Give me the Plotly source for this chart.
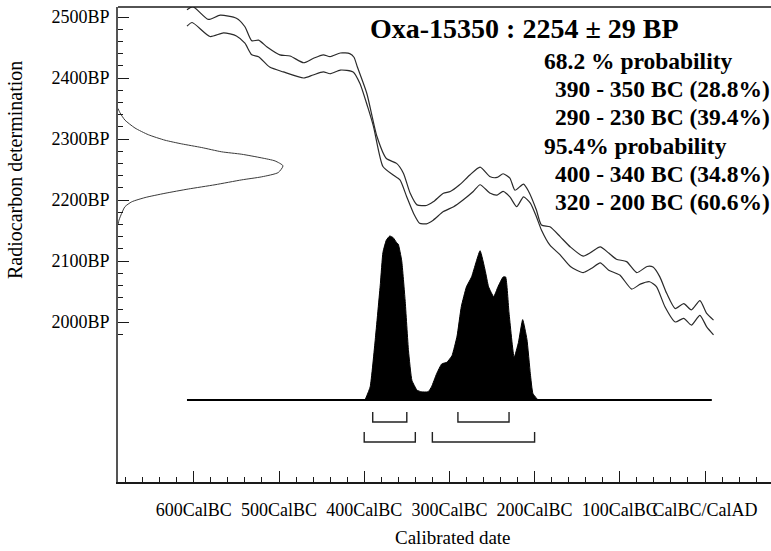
import plotly.graph_objects as go

# ---------------- data ----------------
# calibration curve, upper (+1 sigma) line: calendar year (AD, BC negative) -> BP
upper_year = [-608, -601, -583, -569, -550, -540, -532, -524, -514, -499, -487, -471, -460,
              -448, -440, -428, -417, -412, -408, -397, -385, -374, -362, -354, -346, -338,
              -327, -319, -307, -299, -288, -276, -264, -252, -244, -237, -229, -223, -213,
              -207, -198, -192, -182, -170, -158, -143, -133, -123, -113, -104, -92, -80,
              -68, -61, -53, -45, -35, -25, -16, -6, 2, 10]
upper_bp = [2512, 2517, 2496, 2503, 2498, 2484, 2461, 2462, 2451, 2438, 2436, 2425, 2432,
            2438, 2435, 2441, 2440, 2434, 2418, 2375, 2304, 2268, 2260, 2244, 2211, 2192,
            2191, 2197, 2211, 2214, 2225, 2241, 2254, 2238, 2237, 2243, 2236, 2216, 2226,
            2214, 2184, 2159, 2156, 2140, 2123, 2108, 2115, 2123, 2113, 2103, 2099, 2081,
            2091, 2090, 2074, 2047, 2022, 2030, 2020, 2035, 2014, 2003]

# calibration curve, lower (-1 sigma) line
lower_year = [-608, -602, -581, -565, -550, -540, -532, -524, -511, -495, -471, -460, -448,
              -440, -428, -413, -405, -396, -389, -378, -366, -358, -350, -342, -335, -327,
              -319, -307, -295, -284, -272, -264, -252, -244, -237, -229, -221, -213, -205,
              -198, -192, -182, -170, -158, -143, -133, -123, -113, -100, -86, -76, -65,
              -57, -47, -35, -25, -16, -6, 2, 10]
lower_bp = [2485, 2491, 2468, 2474, 2469, 2457, 2438, 2435, 2418, 2410, 2400, 2405, 2410,
            2407, 2413, 2410, 2391, 2353, 2320, 2255, 2241, 2233, 2205, 2178, 2162, 2161,
            2167, 2181, 2189, 2200, 2214, 2225, 2211, 2208, 2214, 2205, 2189, 2205, 2195,
            2173, 2151, 2126, 2110, 2091, 2081, 2088, 2097, 2085, 2077, 2054, 2062, 2066,
            2058, 2025, 2000, 2006, 1995, 2011, 1992, 1979]

# radiocarbon measurement distribution (left): BP -> relative probability
meas_bp = [2350, 2343, 2331, 2318, 2307, 2298, 2292, 2286, 2279, 2275, 2269, 2264, 2256,
           2245, 2238, 2233, 2225, 2218, 2211, 2204, 2197, 2189, 2178, 2167, 2160]
meas_prob = [0.0, 0.012, 0.042, 0.103, 0.184, 0.285, 0.386, 0.507, 0.628, 0.75, 0.871, 0.952,
             1.0, 0.971, 0.871, 0.75, 0.588, 0.426, 0.285, 0.164, 0.083, 0.042, 0.022, 0.006, 0.0]

# calibrated date distribution (bottom): calendar year -> relative probability
cal_year = [-399, -393, -387, -381, -378, -374, -370, -366, -362, -360, -356, -352,
            -348, -344, -338, -333, -325, -321, -315, -309, -303, -297, -291, -286, -280,
            -274, -264, -258, -254, -248, -243, -237, -234, -230, -224, -219, -214, -209,
            -205, -202, -196]
cal_prob = [0.0, 0.08, 0.37, 0.71, 0.90, 0.975, 1.0, 0.99, 0.96, 0.95, 0.85, 0.61,
            0.30, 0.12, 0.06, 0.05, 0.05, 0.08, 0.16, 0.22, 0.23, 0.27, 0.39, 0.57, 0.69,
            0.75, 0.91, 0.79, 0.69, 0.63, 0.69, 0.75, 0.75, 0.53, 0.26, 0.35, 0.49, 0.37,
            0.16, 0.04, 0.0]
cal_span = [-608, 8]   # extent of the calibrated-date baseline

range68 = [(-390, -350), (-290, -230)]
range95 = [(-400, -340), (-320, -200)]

x_major = [-600, -500, -400, -300, -200, -100, 0]
x_labels = ["600CalBC", "500CalBC", "400CalBC", "300CalBC", "200CalBC", "100CalBC", "CalBC/CalAD"]
x_minor = [v for v in range(-680, 61, 20) if v % 100 != 0]
y_major = [2000, 2100, 2200, 2300, 2400, 2500]
y_labels = ["2000BP", "2100BP", "2200BP", "2300BP", "2400BP", "2500BP"]
y_minor = [v for v in range(1980, 2500, 20) if v % 100 != 0]

title_text = "Oxa-15350 : 2254 \u00b1 29 BP"
info_lines = [
    ("68.2 % probability", 0),
    ("390 - 350 BC (28.8%)", 1),
    ("290 - 230 BC (39.4%)", 1),
    ("95.4% probability", 0),
    ("400 - 340 BC (34.8%)", 1),
    ("320 - 200 BC (60.6%)", 1),
]

# ---------------- layout geometry ----------------
W, H = 771, 551
ML, MR, MT, MB = 118, 0, 7, 69
PW, PH = W - ML - MR, H - MT - MB
FONT = "Liberation Serif"
INK = "#1a1a1a"


def px_x(px):
    return (px - ML) / PW


def px_y(py):
    return (H - MB - py) / PH


fig = go.Figure()

# calibration curve
for xs, ys in [(upper_year, upper_bp), (lower_year, lower_bp)]:
    fig.add_trace(go.Scatter(x=xs, y=ys, mode="lines",
                             line=dict(color="#2a2a2a", width=1.2, shape="spline", smoothing=0.6),
                             hoverinfo="skip", showlegend=False))

# measurement distribution on left (x2 axis)
fig.add_trace(go.Scatter(x=meas_prob, y=meas_bp, xaxis="x2", yaxis="y", mode="lines",
                         line=dict(color="#3a3a3a", width=1, shape="spline", smoothing=0.6),
                         hoverinfo="skip", showlegend=False))

# calibrated distribution (y2 axis)
fig.add_trace(go.Scatter(x=cal_year, y=cal_prob, xaxis="x", yaxis="y2", mode="lines",
                         fill="toself", fillcolor="black",
                         line=dict(color="black", width=1, shape="spline", smoothing=0.4),
                         hoverinfo="skip", showlegend=False))
fig.add_trace(go.Scatter(x=cal_span, y=[0, 0], xaxis="x", yaxis="y2",
                         mode="lines", line=dict(color="black", width=2),
                         hoverinfo="skip", showlegend=False))

# range brackets
for ranges, top, bot in [(range68, -0.073, -0.134), (range95, -0.195, -0.256)]:
    for a, b in ranges:
        fig.add_trace(go.Scatter(x=[a, a, b, b], y=[top, bot, bot, top], xaxis="x", yaxis="y2",
                                 mode="lines", line=dict(color="#222", width=1.4),
                                 hoverinfo="skip", showlegend=False))

annotations = [
    dict(text=title_text, x=px_x(368), y=px_y(28), xref="paper", yref="paper",
         xanchor="left", yanchor="middle", showarrow=False,
         font=dict(family=FONT, size=28, color="black", weight="bold")),
    dict(text="Calibrated date", x=px_x(453), y=px_y(537), xref="paper", yref="paper",
         xanchor="center", yanchor="middle", showarrow=False,
         font=dict(family=FONT, size=19, color="black")),
    dict(text="Radiocarbon determination", x=px_x(15), y=px_y(170), xref="paper", yref="paper",
         xanchor="center", yanchor="middle", showarrow=False, textangle=-90,
         font=dict(family=FONT, size=20, color="black")),
]
line_y = [61, 89, 117, 146, 174, 202]
for (txt, indent), yy in zip(info_lines, line_y):
    annotations.append(dict(text=txt, x=px_x(553 if indent else 542), y=px_y(yy),
                            xref="paper", yref="paper", xanchor="left", yanchor="middle",
                            showarrow=False,
                            font=dict(family=FONT, size=23.5, color="black", weight="bold")))

fig.update_layout(
    width=W, height=H,
    margin=dict(l=ML, r=MR, t=MT, b=MB, pad=0),
    paper_bgcolor="white", plot_bgcolor="white",
    font=dict(family=FONT, color="black"),
    showlegend=False,
    xaxis=dict(range=[(ML - 705) / 0.852, (W - 705) / 0.852],
               tickmode="array", tickvals=x_major, ticktext=x_labels, tickangle=0,
               ticks="inside", ticklen=11, tickwidth=1.4, tickcolor=INK,
               ticklabelstandoff=10,
               minor=dict(tickmode="array", tickvals=x_minor, ticks="inside",
                          ticklen=5, tickwidth=1.2, tickcolor=INK),
               showline=True, linecolor=INK, linewidth=2,
               showgrid=False, zeroline=False,
               tickfont=dict(family=FONT, size=18, color="black")),
    yaxis=dict(range=[2000 - 160 / 0.61, 2500 + 10 / 0.61],
               tickmode="array", tickvals=y_major, ticktext=y_labels,
               ticks="inside", ticklen=11, tickwidth=1.4, tickcolor=INK,
               ticklabelstandoff=3,
               minor=dict(tickmode="array", tickvals=y_minor, ticks="inside",
                          ticklen=5, tickwidth=1.2, tickcolor=INK),
               showline=True, linecolor="#555", linewidth=1.5,
               showgrid=False, zeroline=False,
               tickfont=dict(family=FONT, size=18, color="black")),
    xaxis2=dict(overlaying="x", range=[0, PW / 165], visible=False),
    yaxis2=dict(overlaying="y", range=[-0.5, -0.5 + PH / 164], visible=False),
    annotations=annotations,
    shapes=[dict(type="line", xref="paper", yref="paper", x0=0, x1=1, y0=1, y1=1,
                 line=dict(color=INK, width=1.5))],
)

fig.write_html("out.html", config={"displayModeBar": False},
               post_script="document.body.style.margin='0';document.body.style.overflow='hidden';")
